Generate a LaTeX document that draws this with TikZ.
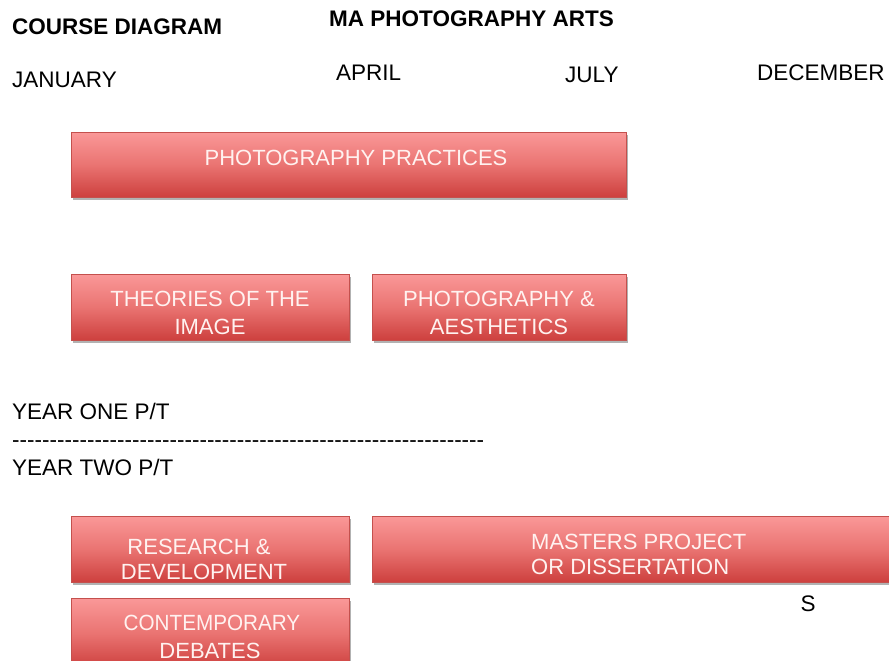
\documentclass[tikz,border=0pt]{standalone}
\usepackage{fontspec}
\setmainfont{Liberation Sans}
\usetikzlibrary{shadows}
\definecolor{boxtop}{RGB}{250,152,152}
\definecolor{boxmid}{RGB}{234,116,114}
\definecolor{boxbot}{RGB}{205,64,62}
\definecolor{boxline}{RGB}{196,80,77}
\definecolor{boxtext}{RGB}{255,242,240}
\begin{document}
\begin{tikzpicture}[x=1pt,y=-1pt,
  box/.style={draw=boxline, line width=0.8pt, top color=boxtop, bottom color=boxbot, middle color=boxmid,
    drop shadow={shadow xshift=1.5pt, shadow yshift=-3pt, opacity=0.5, fill=black!60}, inner sep=0pt},
  lbl/.style={font=\fontsize{22.5}{27}\selectfont, anchor=base west, inner sep=0pt},
  ttl/.style={lbl, font=\fontsize{22.5}{27}\selectfont\bfseries},
  btxt/.style={font=\fontsize{22}{26}\selectfont, text=boxtext, anchor=base, inner sep=0pt},
  btxtw/.style={btxt, anchor=base west}]
\useasboundingbox[fill=white] (0,0) rectangle (889,661);

% titles
\node[ttl] (course) at (12,35) {COURSE DIAGRAM};
\node[ttl] (ma) at (329,27) {MA PHOTOGRAPHY ARTS};
\node[lbl] (jan) at (12,88) {JANUARY};
\node[lbl] (apr) at (336,81) {APRIL};
\node[lbl] (jul) at (565,82) {JULY};
\node[lbl] (dec) at (757,81) {DECEMBER};

% boxes
\node[box, minimum width=555pt, minimum height=65pt] (pp) at (348.5,164.5) {};
\node[btxt] (ppt) at (356,165) {PHOTOGRAPHY PRACTICES};

\node[box, minimum width=278pt, minimum height=66pt] (ti) at (210,307) {};
\node[btxt] (ti1) at (210,306) {THEORIES OF THE};
\node[btxt] (ti2) at (210,334) {IMAGE};

\node[box, minimum width=254pt, minimum height=66pt] (pa) at (499,307) {};
\node[btxt] (pa1) at (499,306) {PHOTOGRAPHY \&};
\node[btxt] (pa2) at (499,334) {AESTHETICS};

% year labels
\node[lbl] (y1) at (12,419) {YEAR ONE P/T};
\node[lbl] (dl) at (12,447) {\foreach \i in {1,...,63}{-{}}};
\node[lbl] (y2) at (12,475) {YEAR TWO P/T};

\node[box, minimum width=278pt, minimum height=66pt] (rd) at (210,549) {};
\node[btxt] (rd1) at (199,554) {RESEARCH \&};
\node[btxt] (rd2) at (204,579) {DEVELOPMENT};

\node[box, minimum width=540pt, minimum height=66pt] (mp) at (642,549) {};
\node[btxtw] (mp1) at (531,549) {MASTERS PROJECT};
\node[btxtw] (mp2) at (531,574) {OR DISSERTATION};

\node[box, minimum width=278pt, minimum height=70pt] (cd) at (210,633) {};
\node[btxt] (cd1) at (212,630) {\scalebox{0.94}[1]{CONTEMPORARY}};
\node[btxt] (cd2) at (210,658) {DEBATES};

\node[lbl, anchor=base] (s) at (808,611) {S};
\end{tikzpicture}
\end{document}
